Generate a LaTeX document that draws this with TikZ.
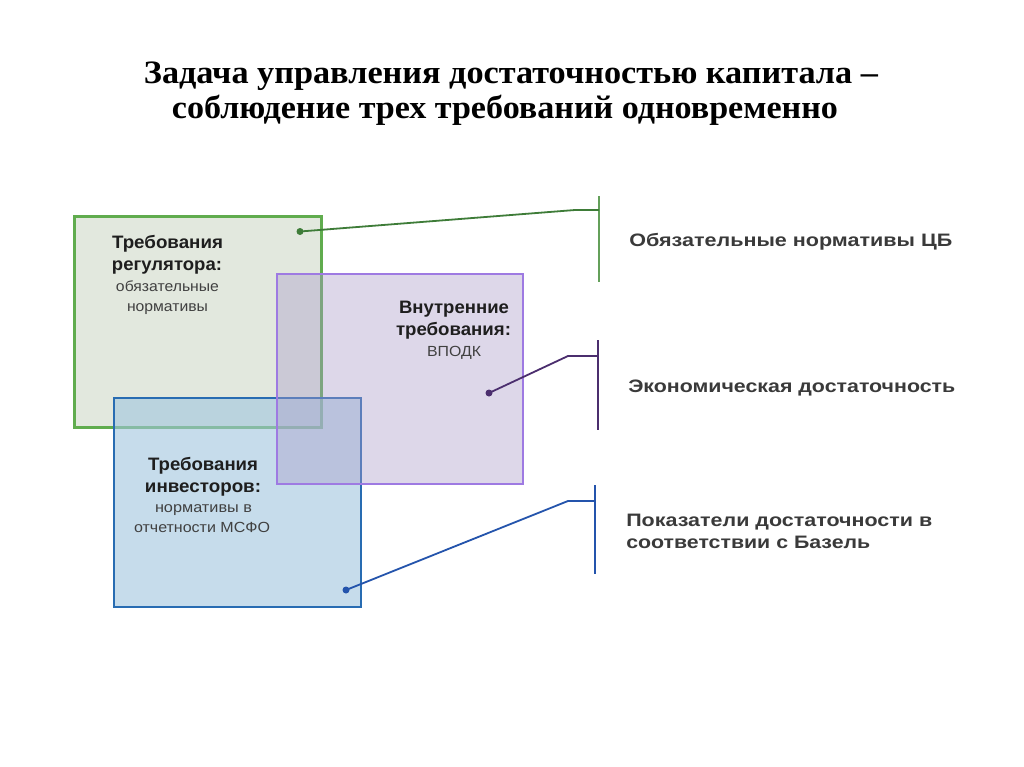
\documentclass[tikz,border=0pt]{standalone}
\usepackage{fontspec}
\usepackage{graphicx}
\setmainfont{Liberation Sans}
\newfontfamily\titlefont{Liberation Serif}
\newdimen\pxu \pxu=0.75pt
\newcommand\fw[2]{\resizebox{#1\pxu}{\height}{#2}}
\definecolor{gfill}{RGB}{226,232,222}
\definecolor{gborder}{RGB}{96,172,78}
\definecolor{pfill}{RGB}{170,155,202}
\definecolor{pborder}{RGB}{158,122,226}
\definecolor{bfill}{RGB}{160,198,222}
\definecolor{bborder}{RGB}{40,108,178}
\definecolor{gline}{RGB}{62,124,56}
\definecolor{pline}{RGB}{75,46,110}
\definecolor{bline}{RGB}{36,84,172}
\definecolor{gbar}{RGB}{100,160,90}
\definecolor{labelgray}{RGB}{58,58,58}
\definecolor{boxtext}{RGB}{30,30,30}
\tikzset{
  reqbox/.style={rectangle, inner sep=0pt, outer sep=0pt},
  bt/.style={inner sep=0pt, anchor=base, text=boxtext, font=\fontsize{13.5}{16}\selectfont\bfseries},
  rt/.style={inner sep=0pt, anchor=base, text=boxtext!85, font=\fontsize{11}{13}\selectfont},
  lab/.style={inner sep=0pt, anchor=base west, text=labelgray, font=\fontsize{13.5}{16}\selectfont\bfseries},
  ttl/.style={inner sep=0pt, anchor=base, font=\titlefont\fontsize{24.5}{28}\selectfont\bfseries},
  dotnode/.style={circle, inner sep=0pt, minimum size=7*0.75pt},
  conn/.style={line width=1.8*0.75pt},
}
\begin{document}
\begin{tikzpicture}[x=0.75pt,y=-0.75pt]
\useasboundingbox (0,0) rectangle (1024,767);
\fill[white] (0,0) rectangle (1024,767);

% title
\node[ttl] (t1) at (511,83) {\fw{734}{Задача управления достаточностью капитала –}};
\node[ttl] (t2) at (505,118) {\fw{666}{соблюдение трех требований одновременно}};

% boxes
\node[reqbox, draw=gborder, fill=gfill, line width=3*0.75pt,
      minimum width=247*0.75pt, minimum height=211*0.75pt] (green) at (197.5,321.5) {};
\node[reqbox, draw=bborder, fill=bfill, fill opacity=0.6, line width=2.6*0.75pt,
      minimum width=247*0.75pt, minimum height=209*0.75pt] (blue) at (237.5,502.5) {};
\node[reqbox, draw=pborder, fill=pfill, fill opacity=0.4, line width=2.5*0.75pt,
      minimum width=246*0.75pt, minimum height=210*0.75pt] (purple) at (400,379) {};

% box texts
\node[bt] (g1) at (167.5,248) {\fw{111}{Требования}};
\node[bt] (g2) at (167,270) {\fw{110}{регулятора:}};
\node[rt] (g3) at (167.5,291) {\fw{103}{обязательные}};
\node[rt] (g4) at (167.5,311) {\fw{81}{нормативы}};

\node[bt] (p1) at (454,313) {\fw{110}{Внутренние}};
\node[bt] (p2) at (453.5,335) {\fw{115}{требования:}};
\node[rt] (p3) at (454,356) {\fw{54}{ВПОДК}};

\node[bt] (b1) at (203,470) {\fw{110}{Требования}};
\node[bt] (b2) at (203,492) {\fw{116}{инвесторов:}};
\node[rt] (b3) at (203.5,512) {\fw{97}{нормативы в}};
\node[rt] (b4) at (202,532) {\fw{136}{отчетности МСФО}};

% right labels
\node[lab] (l1) at (629,246) {\fw{323}{Обязательные нормативы ЦБ}};
\node[lab] (l2) at (628,392.5) {\fw{327}{Экономическая достаточность}};
\node[lab] (l3) at (626,526) {\fw{306}{Показатели достаточности в}};
\node[lab] (l4) at (626,548.5) {\fw{244}{соответствии с Базель}};

% bars
\coordinate (gbarT) at (599,196);
\coordinate (gbarB) at (599,282);
\coordinate (gbarM) at (599,210);
\coordinate (gbend) at (575,210);
\coordinate (pbarT) at (598,340);
\coordinate (pbarB) at (598,430);
\coordinate (pbarM) at (598,356);
\coordinate (pbend) at (568,356);
\coordinate (bbarT) at (595,485);
\coordinate (bbarB) at (595,574);
\coordinate (bbarM) at (595,501);
\coordinate (bbend) at (568,501);

\draw[conn, draw=gbar] (gbarT) -- (gbarB);
\draw[conn, draw=pline] (pbarT) -- (pbarB);
\draw[conn, draw=bline] (bbarT) -- (bbarB);

% dots
\node[dotnode, fill=gline] (gdot) at (300,231.5) {};
\node[dotnode, fill=pline] (pdot) at (489,393) {};
\node[dotnode, fill=bline] (bdot) at (346,590) {};

% connectors
\draw[conn, draw=gline] (gdot.center) -- (gbend) -- (gbarM);
\draw[conn, draw=pline] (pdot.center) -- (pbend) -- (pbarM);
\draw[conn, draw=bline] (bdot.center) -- (bbend) -- (bbarM);
\end{tikzpicture}
\end{document}
